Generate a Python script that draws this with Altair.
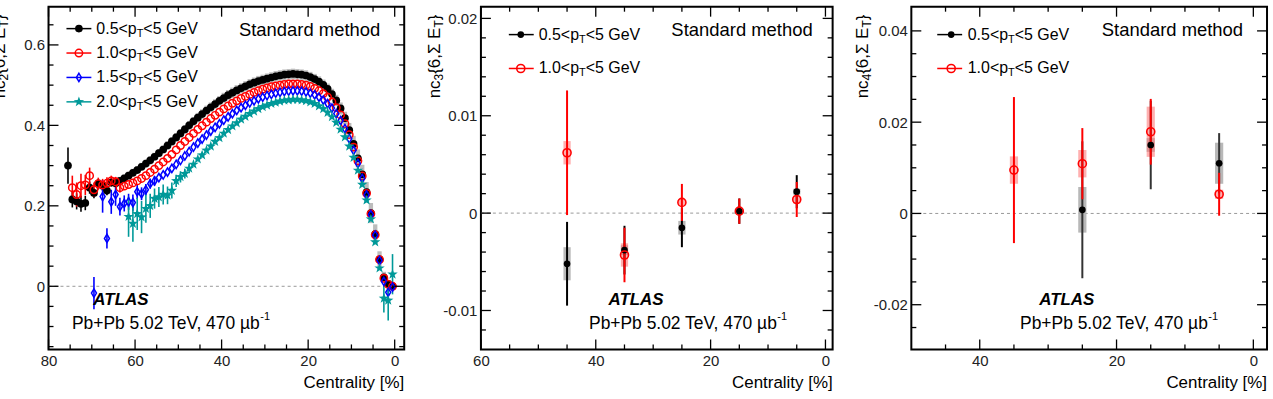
import altair as alt
import pandas as pd

FONT = "Liberation Sans"

# ---------------- nc2{6, Sigma E_T}  (left panel) ----------------
CENT_BLACK2 = [75.5, 74.5, 73.5, 72.5, 71.5, 70.5, 69.5, 68.5, 67.5, 66.5, 65.5, 64.5, 63.5, 62.5, 61.5, 60.5,
               59.5, 58.5, 57.5, 56.5, 55.5, 54.5, 53.5, 52.5, 51.5, 50.5, 49.5, 48.5, 47.5, 46.5, 45.5, 44.5,
               43.5, 42.5, 41.5, 40.5, 39.5, 38.5, 37.5, 36.5, 35.5, 34.5, 33.5, 32.5, 31.5, 30.5, 29.5, 28.5,
               27.5, 26.5, 25.5, 24.5, 23.5, 22.5, 21.5, 20.5, 19.5, 18.5, 17.5, 16.5, 15.5, 14.5, 13.5, 12.5,
               11.5, 10.5, 9.5, 8.5, 7.5, 6.5, 5.5, 4.5, 3.5, 2.5, 1.5, 0.5]
NC2_BLACK = [0.300, 0.216, 0.211, 0.205, 0.207, 0.245, 0.232, 0.255, 0.250, 0.238, 0.258, 0.256, 0.262, 0.268,
             0.275, 0.282, 0.289, 0.297, 0.305, 0.313, 0.322, 0.331, 0.340, 0.350, 0.360, 0.370, 0.380, 0.390,
             0.400, 0.410, 0.419, 0.428, 0.437, 0.445, 0.453, 0.461, 0.468, 0.475, 0.481, 0.487, 0.492, 0.497,
             0.502, 0.506, 0.510, 0.513, 0.516, 0.519, 0.522, 0.524, 0.526, 0.527, 0.528, 0.527, 0.526, 0.524,
             0.520, 0.515, 0.509, 0.501, 0.491, 0.478, 0.462, 0.442, 0.418, 0.388, 0.354, 0.318, 0.278, 0.234,
             0.182, 0.130, 0.067, 0.022, 0.006, 0.000]
SYS_BLACK2 = [0.010, 0.010, 0.010, 0.010, 0.010, 0.010, 0.010, 0.010, 0.010, 0.010, 0.010, 0.010, 0.010, 0.010,
              0.010, 0.010, 0.010, 0.010, 0.010, 0.010, 0.010, 0.010, 0.010, 0.011, 0.011, 0.011, 0.011, 0.011,
              0.011, 0.011, 0.012, 0.012, 0.012, 0.012, 0.012, 0.012, 0.013, 0.013, 0.013, 0.013, 0.013, 0.013,
              0.013, 0.013, 0.013, 0.013, 0.013, 0.013, 0.013, 0.013, 0.013, 0.013, 0.013, 0.013, 0.013, 0.013,
              0.013, 0.013, 0.013, 0.013, 0.013, 0.013, 0.014, 0.015, 0.016, 0.018, 0.020, 0.022, 0.024, 0.025,
              0.025, 0.024, 0.020, 0.014, 0.008, 0.006]

CENT_RED2 = [74.5, 73.5, 72.5, 71.5, 70.5, 69.5, 68.5, 67.5, 66.5, 65.5, 64.5, 63.5, 62.5, 61.5, 60.5,
             59.5, 58.5, 57.5, 56.5, 55.5, 54.5, 53.5, 52.5, 51.5, 50.5, 49.5, 48.5, 47.5, 46.5, 45.5, 44.5,
             43.5, 42.5, 41.5, 40.5, 39.5, 38.5, 37.5, 36.5, 35.5, 34.5, 33.5, 32.5, 31.5, 30.5, 29.5, 28.5,
             27.5, 26.5, 25.5, 24.5, 23.5, 22.5, 21.5, 20.5, 19.5, 18.5, 17.5, 16.5, 15.5, 14.5, 13.5, 12.5,
             11.5, 10.5, 9.5, 8.5, 7.5, 6.5, 5.5, 4.5, 3.5, 2.5, 1.5, 0.5]
NC2_RED = [0.245, 0.228, 0.250, 0.252, 0.275, 0.240, 0.255, 0.252, 0.256, 0.262, 0.260, 0.245, 0.249, 0.253,
           0.257, 0.262, 0.268, 0.275, 0.283, 0.291, 0.300, 0.309, 0.318, 0.328, 0.339, 0.350, 0.360, 0.370,
           0.380, 0.390, 0.399, 0.408, 0.417, 0.425, 0.433, 0.441, 0.448, 0.455, 0.461, 0.467, 0.472, 0.477,
           0.482, 0.486, 0.490, 0.493, 0.496, 0.498, 0.500, 0.502, 0.503, 0.503, 0.503, 0.502, 0.500, 0.497,
           0.492, 0.486, 0.479, 0.470, 0.458, 0.444, 0.426, 0.404, 0.377, 0.346, 0.312, 0.274, 0.231, 0.180,
           0.128, 0.066, 0.020, 0.005, 0.000]

CENT_BLUE2 = [69.5, 67.5, 66.5, 65.5, 64.5, 63.5, 62.5, 61.5, 60.5,
              59.5, 58.5, 57.5, 56.5, 55.5, 54.5, 53.5, 52.5, 51.5, 50.5, 49.5, 48.5, 47.5, 46.5, 45.5, 44.5,
              43.5, 42.5, 41.5, 40.5, 39.5, 38.5, 37.5, 36.5, 35.5, 34.5, 33.5, 32.5, 31.5, 30.5, 29.5, 28.5,
              27.5, 26.5, 25.5, 24.5, 23.5, 22.5, 21.5, 20.5, 19.5, 18.5, 17.5, 16.5, 15.5, 14.5, 13.5, 12.5,
              11.5, 10.5, 9.5, 8.5, 7.5, 6.5, 5.5, 4.5, 3.5, 2.5, 1.5, 0.5]
NC2_BLUE = [-0.017, 0.223, 0.119, 0.210, 0.228, 0.198, 0.206, 0.210, 0.208, 0.235, 0.230, 0.240, 0.255, 0.262,
            0.270, 0.277, 0.284, 0.293, 0.303, 0.313, 0.324, 0.335, 0.346, 0.356, 0.366, 0.376, 0.386, 0.395,
            0.404, 0.413, 0.421, 0.429, 0.437, 0.444, 0.450, 0.456, 0.461, 0.466, 0.470, 0.474, 0.477, 0.480,
            0.482, 0.484, 0.485, 0.486, 0.486, 0.485, 0.483, 0.480, 0.476, 0.470, 0.463, 0.454, 0.443, 0.429,
            0.412, 0.392, 0.367, 0.338, 0.305, 0.268, 0.227, 0.178, 0.127, 0.064, 0.012, -0.015, -0.002]

CENT_TEAL2 = [61.5, 60.5,
              59.5, 58.5, 57.5, 56.5, 55.5, 54.5, 53.5, 52.5, 51.5, 50.5, 49.5, 48.5, 47.5, 46.5, 45.5, 44.5,
              43.5, 42.5, 41.5, 40.5, 39.5, 38.5, 37.5, 36.5, 35.5, 34.5, 33.5, 32.5, 31.5, 30.5, 29.5, 28.5,
              27.5, 26.5, 25.5, 24.5, 23.5, 22.5, 21.5, 20.5, 19.5, 18.5, 17.5, 16.5, 15.5, 14.5, 13.5, 12.5,
              11.5, 10.5, 9.5, 8.5, 7.5, 6.5, 5.5, 4.5, 3.5, 2.5, 1.5, 0.5]
NC2_TEAL = [0.173, 0.156, 0.180, 0.172, 0.193, 0.200, 0.218, 0.222, 0.228, 0.226, 0.238, 0.262, 0.272, 0.280,
            0.293, 0.303, 0.316, 0.326, 0.338, 0.348, 0.360, 0.369, 0.380, 0.389, 0.398, 0.406, 0.415, 0.422,
            0.429, 0.435, 0.441, 0.446, 0.450, 0.454, 0.457, 0.460, 0.462, 0.463, 0.464, 0.464, 0.463, 0.461,
            0.458, 0.454, 0.448, 0.441, 0.432, 0.421, 0.407, 0.390, 0.371, 0.348, 0.320, 0.288, 0.253, 0.214,
            0.167, 0.110, 0.045, -0.030, -0.035, 0.030]

# visible statistical error bars (centrality -> half size)
ERR_BLACK2_CENT = [75.5, 74.5, 73.5, 72.5, 71.5, 70.5, 69.5, 68.5, 67.5, 66.5, 65.5]
ERR_BLACK2 = [0.045, 0.020, 0.020, 0.020, 0.018, 0.015, 0.013, 0.012, 0.012, 0.012, 0.010]
ERR_RED2_CENT = [74.5, 73.5, 72.5, 71.5, 70.5, 69.5, 68.5, 67.5, 66.5, 65.5, 64.5, 63.5]
ERR_RED2 = [0.030, 0.030, 0.030, 0.025, 0.020, 0.018, 0.015, 0.015, 0.015, 0.013, 0.012, 0.012]
ERR_BLUE2_CENT = [69.5, 67.5, 66.5, 65.5, 64.5, 63.5, 62.5, 61.5, 60.5, 59.5, 58.5, 57.5, 56.5, 55.5, 1.5]
ERR_BLUE2 = [0.040, 0.040, 0.025, 0.030, 0.028, 0.022, 0.020, 0.020, 0.020, 0.018, 0.016, 0.014, 0.012, 0.012, 0.015]
ERR_TEAL2_CENT = [61.5, 60.5, 59.5, 58.5, 57.5, 56.5, 55.5, 54.5, 53.5, 52.5, 51.5, 50.5, 49.5, 48.5, 47.5,
                  2.5, 1.5, 0.5]
ERR_TEAL2 = [0.050, 0.045, 0.040, 0.040, 0.035, 0.030, 0.025, 0.025, 0.025, 0.022, 0.020, 0.015, 0.014, 0.012,
             0.012, 0.035, 0.050, 0.050]

# ---------------- nc3{6, Sigma E_T}  (middle panel) ----------------
CENT3 = [45, 35, 25, 15, 5]
NC3_BLACK = [-0.0052, -0.0038, -0.0015, 0.0002, 0.0022]
NC3_BLACK_STAT = [0.0043, 0.0025, 0.0020, 0.0013, 0.0017]
NC3_BLACK_SYS = [0.0017, 0.0005, 0.0007, 0.0003, 0.0003]
NC3_RED = [0.0062, -0.0043, 0.0011, 0.0002, 0.0014]
NC3_RED_STAT = [0.0064, 0.0028, 0.0019, 0.0013, 0.0018]
NC3_RED_SYS = [0.0012, 0.0012, 0.0003, 0.0003, 0.0004]

# ---------------- nc4{6, Sigma E_T}  (right panel) ----------------
CENT4_BLACK = [25, 15, 5]
NC4_BLACK = [0.0008, 0.0150, 0.0110]
NC4_BLACK_STAT = [0.0150, 0.0097, 0.0066]
NC4_BLACK_SYS = [0.0050, 0.0015, 0.0045]
CENT4_RED = [35, 25, 15, 5]
NC4_RED = [0.0095, 0.0109, 0.0179, 0.0042]
NC4_RED_STAT = [0.0160, 0.0078, 0.0072, 0.0047]
NC4_RED_SYS = [0.0030, 0.0030, 0.0055, 0.0010]

PT_LOW = ["0.5", "1.0", "1.5", "2.0"]

DUMMY = pd.DataFrame({"d": [0]})
DIAMOND = "M0,-1L0.6,0L0,1L-0.6,0Z"
STAR = ("M0,-1L0.235,-0.324L0.951,-0.309L0.380,0.124L0.588,0.809L0,0.4L-0.588,0.809"
        "L-0.380,0.124L-0.951,-0.309L-0.235,-0.324Z")
TEAL = "#009999"

STYLES = {
    "black": dict(shape="circle", filled=True, color="black", size=60, opacity=1),
    "red": dict(shape="circle", filled=False, color="#ff0000", size=55, strokeWidth=1.5, opacity=1),
    "blue": dict(shape=DIAMOND, filled=False, color="#0000ff", size=70, strokeWidth=1.5, opacity=1),
    "teal": dict(shape=STAR, filled=True, color=TEAL, size=120, opacity=1),
}
STYLES_SMALL = {
    "black": dict(shape="circle", filled=True, color="black", size=45, opacity=1),
    "red": dict(shape="circle", filled=False, color="#ff0000", size=65, strokeWidth=1.6, opacity=1),
}
LINECOL = {"black": "black", "red": "#ff0000", "blue": "#0000ff", "teal": TEAL}


def txt(s, x, y, size, align="left", baseline="middle", weight="normal", style="normal", angle=0):
    kw = dict(text=s, font=FONT, fontSize=size, align=align, baseline=baseline,
              fontWeight=weight, fontStyle=style, color="black")
    if angle:
        kw["angle"] = angle
    return alt.Chart(DUMMY).mark_text(**kw).encode(x=alt.value(x), y=alt.value(y))


def ytitle(n, x, y0):
    # nc_n{6,Sigma E_T} rotated, reading upward starting at y0
    big, small = 17, 12
    parts = []
    y = y0
    parts.append(txt("nc", x, y, big, angle=270)); y -= 1.056 * big
    parts.append(txt(str(n), x + 4, y, small, angle=270)); y -= 0.556 * small
    parts.append(txt("{6,\u03a3 E", x, y, big, angle=270)); y -= 2.73 * big
    parts.append(txt("T", x + 4, y, small, angle=270)); y -= 0.611 * small
    parts.append(txt("}", x, y, big, angle=270))
    return parts


def legend_row(key, label_low, y, x_line0, x_line1, x_mark, x_text, small=False):
    st = (STYLES_SMALL if small else STYLES)[key]
    out = [
        alt.Chart(DUMMY).mark_rule(color=LINECOL[key], strokeWidth=1.5).encode(
            x=alt.value(x_line0), x2=alt.value(x_line1), y=alt.value(y)),
        alt.Chart(DUMMY).mark_point(**st).encode(x=alt.value(x_mark), y=alt.value(y)),
    ]
    fs = 16
    w1 = 2.53 * fs
    out.append(txt(label_low + "<p", x_text, y, fs))
    out.append(txt("T", x_text + w1, y + 5, 11))
    out.append(txt("<5 GeV", x_text + w1 + 6.7, y, fs))
    return out


def panel(P):
    W, H = P["W"], P["H"]
    xs = alt.Scale(domain=P["xdom"], reverse=True, nice=False, zero=False)
    ys = alt.Scale(domain=P["ydom"], nice=False, zero=False)
    common = dict(ticks=False, domain=False, grid=False, title=None, labelFont=FONT, labelFontSize=15,
                  labelColor="#222", labelOverlap=False, labelFlush=False)
    xax = alt.Axis(values=P["xmaj"], format="d", labelPadding=4, **common)
    yax = alt.Axis(values=P["ymaj"], format="~g", labelPadding=4,
                   labelExpr="replace(datum.label, '\u2212', '-')", **common)

    def X(f):
        return alt.X(f + ":Q", scale=xs, axis=xax)

    def Y(f):
        return alt.Y(f + ":Q", scale=ys, axis=yax)

    layers = []
    # zero line
    layers.append(alt.Chart(pd.DataFrame({"y": [0.0]})).mark_rule(
        color="#999999", strokeDash=[3, 3], strokeWidth=1).encode(
        y=Y("y"), x=alt.value(0), x2=alt.value(W)))
    # systematic boxes
    for df, col, op in P["sys"]:
        layers.append(alt.Chart(df).mark_rect(color=col, opacity=op).encode(
            x=X("xl"), x2="xr:Q", y=Y("lo"), y2="hi:Q"))
    # stat error bars
    for df, col, sw in P["err"]:
        layers.append(alt.Chart(df).mark_rule(color=col, strokeWidth=sw).encode(
            x=X("x"), y=Y("lo"), y2="hi:Q"))
    # points
    for df, st in P["pts"]:
        layers.append(alt.Chart(df).mark_point(**st).encode(x=X("x"), y=Y("y")))
    # inward ticks
    for vals, L in ((P["xmaj"], 10), (P["xmin"], 5)):
        d = pd.DataFrame({"x": vals})
        for a, b in ((H, H - L), (0, L)):
            layers.append(alt.Chart(d).mark_rule(color="black", strokeWidth=1.3).encode(
                x=X("x"), y=alt.value(a), y2=alt.value(b)))
    for vals, L in ((P["ymaj"], 10), (P["ymin"], 5)):
        d = pd.DataFrame({"y": vals})
        for a, b in ((0, L), (W, W - L)):
            layers.append(alt.Chart(d).mark_rule(color="black", strokeWidth=1.3).encode(
                y=Y("y"), x=alt.value(a), x2=alt.value(b)))
    # legend and texts
    layers += P["legend"]
    layers.append(txt("Standard method", 333, 23, 18.5, align="right"))
    layers.append(txt("ATLAS", P["atlas_x"], 294, 17, weight="bold", style="italic"))
    pb_end = P["pb_x"] + 191
    layers.append(txt("Pb+Pb 5.02 TeV, 470 \u00b5b", pb_end, 318, 17.5, align="right"))
    layers.append(txt("-1", pb_end + 0.5, 311, 11))
    layers.append(txt("Centrality [%]", W, 378, 17, align="right"))
    layers += ytitle(P["n"], P["title_x"], 92)
    return alt.layer(*layers).properties(width=W, height=H)


def pts_df(c, v):
    return pd.DataFrame({"x": c, "y": v})


def err_df(c_all, v_all, c_err, e):
    m = dict(zip(c_all, v_all))
    return pd.DataFrame({"x": c_err, "lo": [m[c] - s for c, s in zip(c_err, e)],
                         "hi": [m[c] + s for c, s in zip(c_err, e)]})


def sys_df(c, v, s, hw):
    return pd.DataFrame({"xl": [a - hw for a in c], "xr": [a + hw for a in c],
                         "lo": [a - b for a, b in zip(v, s)], "hi": [a + b for a, b in zip(v, s)]})


# ---- left panel ----
left_legend = []
for i, key in enumerate(["black", "red", "blue", "teal"]):
    left_legend += legend_row(key, PT_LOW[i], 22 + 24.5 * i, 18, 43, 30.5, 48)

P2 = dict(
    n=2, W=357, H=344, xdom=[-2.2, 80], ydom=[-0.157, 0.695],
    xmaj=[80, 60, 40, 20, 0], xmin=[75, 70, 65, 55, 50, 45, 35, 30, 25, 15, 10, 5],
    ymaj=[0, 0.2, 0.4, 0.6],
    ymin=[-0.15, -0.1, -0.05, 0.05, 0.1, 0.15, 0.25, 0.3, 0.35, 0.45, 0.5, 0.55, 0.65],
    sys=[(sys_df(CENT_BLACK2, NC2_BLACK, SYS_BLACK2, 0.5), "#b5b5b5", 0.9)],
    err=[(err_df(CENT_BLACK2, NC2_BLACK, ERR_BLACK2_CENT, ERR_BLACK2), "black", 1.6),
         (err_df(CENT_RED2, NC2_RED, ERR_RED2_CENT, ERR_RED2), "#ff0000", 1.6),
         (err_df(CENT_BLUE2, NC2_BLUE, ERR_BLUE2_CENT, ERR_BLUE2), "#0000ff", 1.6),
         (err_df(CENT_TEAL2, NC2_TEAL, ERR_TEAL2_CENT, ERR_TEAL2), TEAL, 1.6)],
    pts=[(pts_df(CENT_BLACK2, NC2_BLACK), STYLES["black"]),
         (pts_df(CENT_RED2, NC2_RED), STYLES["red"]),
         (pts_df(CENT_BLUE2, NC2_BLUE), STYLES["blue"]),
         (pts_df(CENT_TEAL2, NC2_TEAL), STYLES["teal"])],
    legend=left_legend, atlas_x=45, pb_x=21, title_x=-48.5,
)

# ---- middle panel ----
mid_legend = (legend_row("black", PT_LOW[0], 28, 28, 53, 40, 58, small=True)
              + legend_row("red", PT_LOW[1], 62, 28, 53, 40, 58, small=True))
P3 = dict(
    n=3, W=353, H=344, xdom=[-1.25, 60], ydom=[-0.0140, 0.0212],
    xmaj=[60, 40, 20, 0], xmin=[55, 50, 45, 35, 30, 25, 15, 10, 5],
    ymaj=[-0.01, 0, 0.01, 0.02],
    ymin=[-0.012, -0.008, -0.006, -0.004, -0.002, 0.002, 0.004, 0.006, 0.008,
          0.012, 0.014, 0.016, 0.018],
    sys=[(sys_df(CENT3, NC3_BLACK, NC3_BLACK_SYS, 0.63), "#b0b0b0", 0.9),
         (sys_df(CENT3, NC3_RED, NC3_RED_SYS, 0.63), "#ff7070", 0.55)],
    err=[(err_df(CENT3, NC3_BLACK, CENT3, NC3_BLACK_STAT), "black", 2),
         (err_df(CENT3, NC3_RED, CENT3, NC3_RED_STAT), "#ff0000", 2)],
    pts=[(pts_df(CENT3, NC3_BLACK), STYLES_SMALL["black"]),
         (pts_df(CENT3, NC3_RED), STYLES_SMALL["red"])],
    legend=mid_legend, atlas_x=128, pb_x=106, title_x=-46.3,
)

# ---- right panel ----
right_legend = (legend_row("black", PT_LOW[0], 28, 26, 51, 40, 56.6, small=True)
                + legend_row("red", PT_LOW[1], 62, 26, 51, 40, 56.6, small=True))
P4 = dict(
    n=4, W=357, H=344, xdom=[-2.0, 50], ydom=[-0.0298, 0.0453],
    xmaj=[40, 20, 0], xmin=[45, 35, 30, 25, 15, 10, 5],
    ymaj=[-0.02, 0, 0.02, 0.04],
    ymin=[-0.025, -0.015, -0.01, -0.005, 0.005, 0.01, 0.015, 0.025, 0.03, 0.035],
    sys=[(sys_df(CENT4_BLACK, NC4_BLACK, NC4_BLACK_SYS, 0.6), "#b0b0b0", 0.9),
         (sys_df(CENT4_RED, NC4_RED, NC4_RED_SYS, 0.6), "#ff7070", 0.55)],
    err=[(err_df(CENT4_BLACK, NC4_BLACK, CENT4_BLACK, NC4_BLACK_STAT), "#333333", 2),
         (err_df(CENT4_RED, NC4_RED, CENT4_RED, NC4_RED_STAT), "#ff0000", 2)],
    pts=[(pts_df(CENT4_BLACK, NC4_BLACK), STYLES_SMALL["black"]),
         (pts_df(CENT4_RED, NC4_RED), STYLES_SMALL["red"])],
    legend=right_legend, atlas_x=128.3, pb_x=106.6, title_x=-48.7,
)

chart = alt.hconcat(panel(P2), panel(P3), panel(P4), spacing=18).resolve_scale(
    x="independent", y="independent"
).properties(
    padding={"left": -10.3, "top": 4, "right": 4, "bottom": 2},
    background="white",
).configure_view(stroke="black", strokeWidth=2, fill="white")

chart.save("out.html", embed_options={"renderer": "svg", "actions": False})
